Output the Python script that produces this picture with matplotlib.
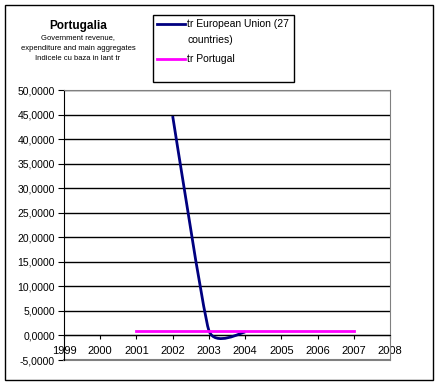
import numpy as np
import matplotlib
matplotlib.use("Agg")
import matplotlib.pyplot as plt
from matplotlib.path import Path
from matplotlib.patches import PathPatch, Rectangle
from matplotlib.lines import Line2D
from matplotlib.ticker import FuncFormatter

plt.rcParams['font.family'] = ['Liberation Sans', 'DejaVu Sans']

# data
eu_years = [2002, 2003, 2004]
eu_vals = [44.7, 1.0, 0.7]
pt_years = [2001, 2002, 2003, 2004, 2005, 2006, 2007]
pt_vals = [1.0, 1.0, 1.0, 1.0, 1.0, 1.0, 1.0]
x_ticks = list(range(1999, 2009))
y_ticks = list(range(-5, 55, 5))

W, H = 440, 386
fig = plt.figure(figsize=(W / 100, H / 100), dpi=100)

def px(x0, y0, x1, y1):
    # pixel box -> figure fraction [left, bottom, width, height]
    return [x0 / W, 1 - y1 / H, (x1 - x0) / W, (y1 - y0) / H]

ax = fig.add_axes(px(64, 90, 390, 360))
ax.set_xlim(1999, 2008)
ax.set_ylim(-5, 50)


def smooth_path(xs, ys, k=0.08):
    # excel-like smoothed line: cubic bezier through every point
    pts = np.column_stack([xs, ys]).astype(float)
    n = len(pts)
    verts = [pts[0]]
    codes = [Path.MOVETO]
    for i in range(n - 1):
        p0 = pts[max(i - 1, 0)]
        p1 = pts[i]
        p2 = pts[i + 1]
        p3 = pts[min(i + 2, n - 1)]
        verts += [p1 + k * (p2 - p0), p2 - k * (p3 - p1), p2]
        codes += [Path.CURVE4] * 3
    return Path(verts, codes)


ax.add_patch(PathPatch(smooth_path(eu_years, eu_vals), facecolor='none',
                       edgecolor='#000080', lw=2, zorder=3))
ax.plot(pt_years, pt_vals, color='#FF00FF', lw=2, zorder=3)

ax.set_yticks(y_ticks)
ax.yaxis.set_major_formatter(FuncFormatter(lambda v, p: f"{v:.4f}".replace('.', ',')))
ax.set_xticks(x_ticks)
ax.grid(axis='y', color='black', lw=1)
ax.set_axisbelow(True)

ax.spines['bottom'].set_position(('data', 0))
ax.spines['bottom'].set_color('black')
ax.spines['left'].set_color('black')
for s in ['top', 'right']:
    ax.spines[s].set_color('#808080')
ax.axhline(-5, color='#808080', lw=1.5, clip_on=False, zorder=2.5)

ax.tick_params(axis='y', direction='out', length=4.5, labelsize=7.5, pad=2)
ax.tick_params(axis='x', direction='out', length=3, labelsize=8, pad=4.5)

# outer frame
fig.patches.append(Rectangle((5 / W, 1 - 380 / H), 428 / W, 375 / H,
                             transform=fig.transFigure, fill=False,
                             edgecolor='black', lw=1))

# title block
fig.text(78 / W, 1 - 26 / H, "Portugalia", ha='center', va='center',
         fontsize=8.5, fontweight='bold')
fig.text(78 / W, 1 - 38 / H, "Government revenue,", ha='center', va='center', fontsize=5.5)
fig.text(78 / W, 1 - 48 / H, "expenditure and main aggregates", ha='center', va='center', fontsize=5.5)
fig.text(78 / W, 1 - 58 / H, "Indicele cu baza in lant tr", ha='center', va='center', fontsize=5.5)

# legend box
fig.patches.append(Rectangle((153 / W, 1 - 82 / H), 141 / W, 67 / H,
                             transform=fig.transFigure, facecolor='white',
                             edgecolor='black', lw=1, zorder=5))
fig.lines.append(Line2D([157 / W, 185 / W], [1 - 24 / H] * 2, transform=fig.transFigure,
                        color='#000080', lw=2, zorder=6))
fig.lines.append(Line2D([157 / W, 185 / W], [1 - 59 / H] * 2, transform=fig.transFigure,
                        color='#FF00FF', lw=2, zorder=6))
fig.text(187 / W, 1 - 24 / H, "tr European Union (27", va='center', fontsize=7.5, zorder=6)
fig.text(187 / W, 1 - 40 / H, "countries)", va='center', fontsize=7.5, zorder=6)
fig.text(187 / W, 1 - 59 / H, "tr Portugal", va='center', fontsize=7.5, zorder=6)

fig.savefig("out.png", dpi=100)
